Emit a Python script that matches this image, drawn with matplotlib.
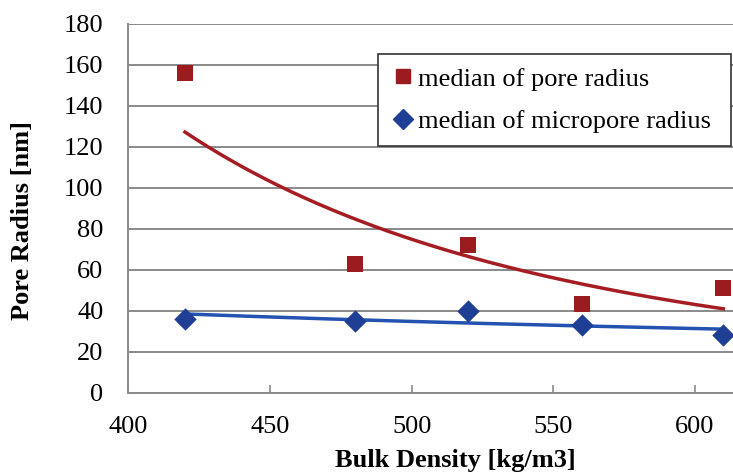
import numpy as np
import matplotlib
matplotlib.use("Agg")
import matplotlib.pyplot as plt
from matplotlib.lines import Line2D

density = [420, 480, 520, 560, 610]
pore_radius = [156, 63, 72, 43, 51]
micropore_radius = [36, 35, 40, 33, 28]
x_ticks = [400, 450, 500, 550, 600]
y_ticks = [0, 20, 40, 60, 80, 100, 120, 140, 160, 180]

plt.rcParams['font.family'] = ['Liberation Serif', 'DejaVu Serif']

W, H = 733, 474
fig = plt.figure(figsize=(W / 100, H / 100), dpi=100)
left, right = 128.3 / W, 1.0
bottom, top = 1 - 392.5 / H, 1 - 24 / H
ax = fig.add_axes([left, bottom, right - left, top - bottom])

red_m = '#9b1c1f'
red_l = '#a51d22'
blue_m = '#1f3f95'
blue_l = '#2452b0'

def power_fit(x, y):
    b, a = np.polyfit(np.log(x), np.log(y), 1)
    xs = np.linspace(min(x), max(x), 200)
    return xs, np.exp(a) * xs ** b

xs, ys = power_fit(np.array(density, float), np.array(pore_radius, float))
ax.plot(xs, ys, color=red_l, lw=2.5, zorder=3)
xs, ys = power_fit(np.array(density, float), np.array(micropore_radius, float))
ax.plot(xs, ys, color=blue_l, lw=2.5, zorder=3)

ax.scatter(density, pore_radius, marker='s', s=120, color=red_m, zorder=4, linewidths=0)
ax.scatter(density, micropore_radius, marker='D', s=130, color=blue_m, zorder=4, linewidths=0)

ax.set_xlim(400, 613.4)
ax.set_ylim(0, 180)
ax.set_xticks(x_ticks)
ax.set_yticks(y_ticks)
ax.yaxis.grid(True, color='#8a8a8a', lw=1.4)
ax.set_axisbelow(True)
for s in ['top', 'right']:
    ax.spines[s].set_visible(False)
for s in ['left', 'bottom']:
    ax.spines[s].set_color('#8a8a8a')
    ax.spines[s].set_linewidth(1.4)
ax.tick_params(axis='x', direction='in', length=6, width=1.2, color='#8a8a8a',
               labelsize=19, pad=17)
ax.tick_params(axis='y', length=0, labelsize=19, pad=18)

ax.set_xlabel('Bulk Density [kg/m3]', fontsize=19, fontweight='bold')
ax.xaxis.set_label_coords((455 - 128.3) / (733 - 128.3), -(461 - 392.5) / (392.5 - 24), transform=ax.transAxes)
ax.xaxis.label.set_va('center')
ax.set_ylabel('Pore Radius [nm]', fontsize=19, fontweight='bold')
ax.yaxis.set_label_coords(-(128.3 - 23) / (733 - 128.3), (392.5 - 221) / (392.5 - 24))
ax.yaxis.label.set_va('center')

handles = [
    Line2D([], [], marker='s', ls='none', color=red_m, markersize=10),
    Line2D([], [], marker='D', ls='none', color=blue_m, markersize=10),
]
leg = ax.legend(handles, ['median of pore radius', 'median of micropore radius'],
                loc='upper left', bbox_to_anchor=(378 / W, 1 - 141 / H, (731 - 378) / W, (141 - 54) / H),
                bbox_transform=fig.transFigure, mode='expand', fontsize=19,
                frameon=True, fancybox=False, borderpad=0.5, handlelength=0.9,
                handletextpad=0.12, labelspacing=0.72, borderaxespad=0)
leg.get_frame().set_edgecolor('#333333')
leg.get_frame().set_linewidth(1.2)
leg.get_frame().set_alpha(1)

fig.savefig('out.png', dpi=100)
